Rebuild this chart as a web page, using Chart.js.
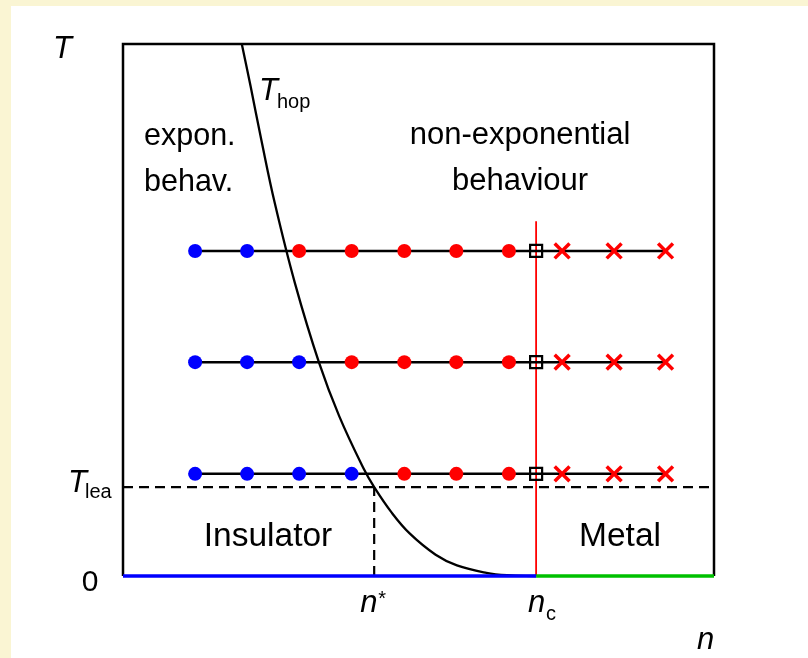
<!DOCTYPE html>
<html>
<head>
<meta charset="utf-8">
<script src="https://cdn.jsdelivr.net/npm/chart.js@4/dist/chart.umd.min.js"></script>
<style>
    body { margin: 0; background: #faf5d3; }
    #phaseChart { display: block; }
</style>
</head>
<body>
<canvas id="phaseChart" width="808" height="658"></canvas>
<script>
// density positions of the measured points on each isotherm (n axis, 0..100)
var nCircles = [12.2, 21.0, 29.8, 38.7, 47.6, 56.4, 65.3];
var nCritical = 69.9;
var nCrosses = [74.3, 83.1, 91.8];
// temperatures of the three isotherms (T axis, 0..100)
var rowT = [61.1, 40.2, 19.2];
// how many points on each isotherm still show exponential behaviour
var exponCount = [2, 3, 4];

var tLea = 16.7;
var nStar = 42.5;
var ncLineTop = 66.7;

// T_hop(n) boundary
var hopN = [20.1, 21.6, 23.4, 25.7, 29.1, 33.2, 36.6, 40.8, 42.5, 45.4, 48.5, 52.9, 56.5, 61.5, 65.0, 69.9];
var hopT = [100, 92, 82, 70, 55, 40, 30, 20, 16.7, 12, 8, 4, 2, 0.6, 0.15, 0];

var FONT = '"Liberation Sans", Arial, sans-serif';

function line(points, color, width, dash) {
    return {
        data: points,
        showLine: true,
        borderColor: color,
        borderWidth: width,
        borderDash: dash || [],
        pointRadius: 0,
        fill: false,
        clip: false
    };
}

var datasets = [];
var blueDots = [], redDots = [], squares = [], crosses = [];

rowT.forEach(function (t, r) {
    var first = nCircles[0];
    var last = nCrosses[nCrosses.length - 1];
    var row = line([{ x: first, y: t }, { x: last, y: t }], '#000', 2.5);
    row.order = 5;
    datasets.push(row);

    nCircles.forEach(function (n, i) {
        (i < exponCount[r] ? blueDots : redDots).push({ x: n, y: t });
    });
    squares.push({ x: nCritical, y: t });
    nCrosses.forEach(function (n) { crosses.push({ x: n, y: t }); });
});

var hop = line(hopN.map(function (n, i) { return { x: n, y: hopT[i] }; }), '#000', 2.3);
hop.tension = 0.4;
hop.order = 4;
datasets.push(hop);

var leaLine = line([{ x: 0, y: tLea }, { x: 100, y: tLea }], '#000', 2.2, [10, 6]);
leaLine.order = 6;
datasets.push(leaLine);

var starLine = line([{ x: nStar, y: 0 }, { x: nStar, y: tLea }], '#000', 2.2, [10, 6]);
starLine.order = 6;
datasets.push(starLine);

var ncLine = line([{ x: nCritical, y: 0 }, { x: nCritical, y: ncLineTop }], '#ff0000', 1.8);
ncLine.order = 7;
datasets.push(ncLine);

var insulatorAxis = line([{ x: 0, y: 0 }, { x: nCritical, y: 0 }], '#0000ff', 3.5);
insulatorAxis.order = 3;
datasets.push(insulatorAxis);

var metalAxis = line([{ x: nCritical, y: 0 }, { x: 100, y: 0 }], '#00c000', 3.5);
metalAxis.order = 3;
datasets.push(metalAxis);

function markers(points, style, radius, fillColor, strokeColor, width) {
    return {
        data: points,
        showLine: false,
        pointStyle: style,
        pointRadius: radius,
        pointBackgroundColor: fillColor,
        pointBorderColor: strokeColor,
        pointBorderWidth: width,
        clip: false,
        order: 1
    };
}

datasets.push(markers(blueDots, 'circle', 7, '#0000ff', '#0000ff', 0));
datasets.push(markers(redDots, 'circle', 7, '#ff0000', '#ff0000', 0));
datasets.push(markers(squares, 'rect', 8.5, 'rgba(0,0,0,0)', '#000', 2.2));
datasets.push(markers(crosses, 'crossRot', 10.5, '#ff0000', '#ff0000', 3.5));

function drawText(ctx, str, x, y, size, italic, align) {
    ctx.font = (italic ? 'italic ' : '') + size + 'px ' + FONT;
    ctx.textAlign = align || 'left';
    ctx.textBaseline = 'alphabetic';
    ctx.fillText(str, x, y);
}

var panelPlugin = {
    id: 'panel',
    beforeDraw: function (chart) {
        var ctx = chart.ctx;
        ctx.save();
        ctx.fillStyle = '#faf5d3';
        ctx.fillRect(0, 0, chart.width, chart.height);
        ctx.fillStyle = '#ffffff';
        ctx.fillRect(11, 6, chart.width - 11, chart.height - 6);
        ctx.restore();
    },
    beforeDatasetsDraw: function (chart) {
        var a = chart.chartArea;
        var ctx = chart.ctx;
        ctx.save();
        ctx.strokeStyle = '#000';
        ctx.lineWidth = 2.5;
        ctx.beginPath();
        ctx.moveTo(a.left, a.bottom);
        ctx.lineTo(a.left, a.top);
        ctx.lineTo(a.right, a.top);
        ctx.lineTo(a.right, a.bottom);
        ctx.stroke();
        ctx.restore();
    },
    afterDraw: function (chart) {
        var ctx = chart.ctx;
        var xs = chart.scales.x, ys = chart.scales.y;
        var yLea = ys.getPixelForValue(tLea);
        var xStar = xs.getPixelForValue(nStar);
        var xc = xs.getPixelForValue(nCritical);
        ctx.save();
        ctx.fillStyle = '#000';

        drawText(ctx, 'T', 53, 58, 31, true);
        drawText(ctx, 'n', 697, 649, 31, true);

        drawText(ctx, 'T', 259, 100, 31, true);
        drawText(ctx, 'hop', 277, 108, 20, false);

        drawText(ctx, 'expon.', 144, 145, 30.5, false);
        drawText(ctx, 'behav.', 144, 191, 30.5, false);
        drawText(ctx, 'non-exponential', 520, 144, 31, false, 'center');
        drawText(ctx, 'behaviour', 520, 190, 31, false, 'center');

        drawText(ctx, 'Insulator', 268, 546, 33.5, false, 'center');
        drawText(ctx, 'Metal', 620, 546, 33.5, false, 'center');

        drawText(ctx, 'T', 68, yLea + 5, 31, true);
        drawText(ctx, 'lea', 85, yLea + 11, 20, false);
        drawText(ctx, '0', 90, 591, 30, false, 'center');

        drawText(ctx, 'n', xStar - 14, 612, 31, true);
        drawText(ctx, '*', xStar + 4, 605, 20, false);
        drawText(ctx, 'n', xc - 8, 612, 31, true);
        drawText(ctx, 'c', xc + 10, 620, 20, false);

        ctx.restore();
    }
};

var phaseChart = new Chart(document.getElementById('phaseChart'), {
    type: 'scatter',
    data: { datasets: datasets },
    options: {
        responsive: false,
        animation: false,
        devicePixelRatio: 1,
        layout: { padding: { left: 123, top: 44, right: 94, bottom: 82 } },
        scales: {
            x: { type: 'linear', min: 0, max: 100, display: false },
            y: { type: 'linear', min: 0, max: 100, display: false }
        },
        plugins: {
            legend: { display: false },
            tooltip: { enabled: false }
        }
    },
    plugins: [panelPlugin]
});
</script>
</body>
</html>
